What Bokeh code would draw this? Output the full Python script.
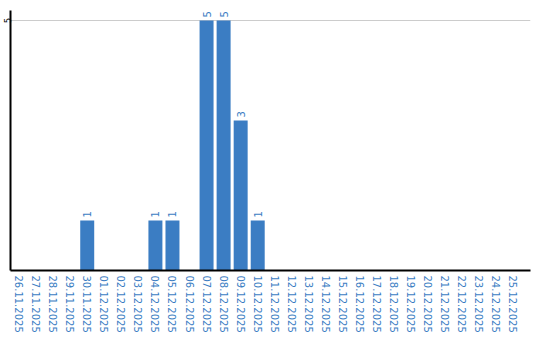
import math
from bokeh.plotting import figure
from bokeh.models import ColumnDataSource, FixedTicker, Range1d
from bokeh.core.properties import value
from bokeh.embed import file_html
from bokeh.resources import INLINE

dates = ["26.11.2025", "27.11.2025", "28.11.2025", "29.11.2025", "30.11.2025",
         "01.12.2025", "02.12.2025", "03.12.2025", "04.12.2025", "05.12.2025",
         "06.12.2025", "07.12.2025", "08.12.2025", "09.12.2025", "10.12.2025",
         "11.12.2025", "12.12.2025", "13.12.2025", "14.12.2025", "15.12.2025",
         "16.12.2025", "17.12.2025", "18.12.2025", "19.12.2025", "20.12.2025",
         "21.12.2025", "22.12.2025", "23.12.2025", "24.12.2025", "25.12.2025"]
counts = [0, 0, 0, 0, 1, 0, 0, 0, 1, 1, 0, 5, 5, 3, 1,
          0, 0, 0, 0, 0, 0, 0, 0, 0, 0, 0, 0, 0, 0, 0]
y_ticks = [5]

BLUE = "#3b7dc3"
FONT = "DejaVu Sans"

idx = list(range(len(dates)))
nz = [i for i in idx if counts[i] > 0]
src = ColumnDataSource(dict(x=nz, top=[counts[i] for i in nz],
                            lbl=[str(counts[i]) for i in nz]))

p = figure(width=540, height=340, output_backend="svg", toolbar_location=None,
           x_range=Range1d(-0.5, 30.0), y_range=Range1d(0, 5.2),
           min_border_left=0, min_border_right=10, min_border_top=10,
           min_border_bottom=70)
p.outline_line_color = None
p.background_fill_color = "white"

p.vbar(x="x", top="top", width=0.82, bottom=0, source=src,
       fill_color=BLUE, line_color=None)
p.text(x="x", y="top", text="lbl", source=src, angle=math.pi / 2,
       text_align="left", text_baseline="middle", y_offset=-3,
       text_font=value(FONT), text_font_size="10px", text_color=BLUE)

p.xgrid.grid_line_color = None
p.ygrid.grid_line_color = "#cccccc"
p.ygrid.ticker = FixedTicker(ticks=y_ticks)

p.xaxis.ticker = FixedTicker(ticks=idx)
p.xaxis.major_label_overrides = {i: d for i, d in enumerate(dates)}
p.xaxis.major_label_orientation = "vertical"
p.xaxis.major_label_text_color = BLUE
p.xaxis.major_label_text_font = FONT
p.xaxis.major_label_text_font_size = "10px"
p.xaxis.major_label_standoff = 5

p.yaxis.ticker = FixedTicker(ticks=y_ticks)
p.yaxis.major_label_orientation = "vertical"
p.yaxis.major_label_text_color = "black"
p.yaxis.major_label_text_font = FONT
p.yaxis.major_label_text_font_size = "8px"
p.yaxis.major_label_standoff = 0

for ax in (p.xaxis, p.yaxis):
    ax.axis_line_color = "black"
    ax.axis_line_width = 2
    ax.major_tick_line_color = None
    ax.minor_tick_line_color = None
    ax.major_tick_out = 0
    ax.major_tick_in = 0

open("out.html", "w").write(file_html(p, INLINE))
